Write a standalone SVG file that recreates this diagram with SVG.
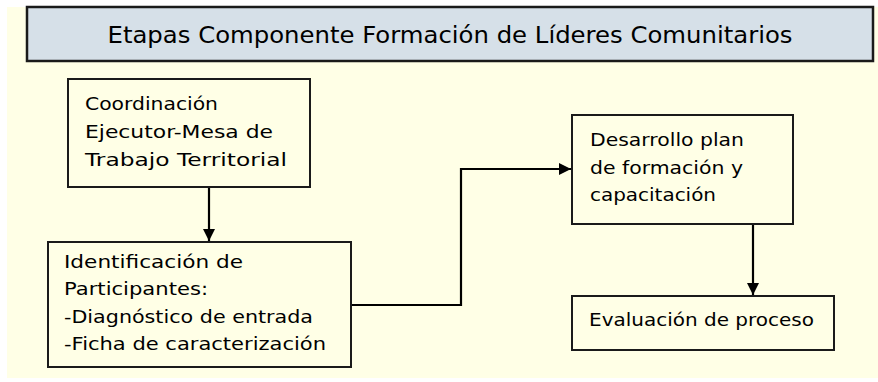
<svg xmlns="http://www.w3.org/2000/svg" width="878" height="382" viewBox="0 0 878 382">
<defs>
<marker id="ah" viewBox="0 0 12 12" refX="12" refY="6" markerWidth="12" markerHeight="12" markerUnits="userSpaceOnUse" orient="auto">
<path d="M0,0 L12,6 L0,12 z" fill="#000"/>
</marker>
<style>
.box{fill:#FFFFE6;stroke:#1a1a1a;stroke-width:2}
.t{font-family:"DejaVu Sans","Liberation Sans",sans-serif;font-size:18px;fill:#000}
.c{fill:none;stroke:#000;stroke-width:2.2}
</style>
</defs>
<rect x="0" y="0" width="878" height="382" fill="#ffffff"/>
<rect x="7" y="7" width="871" height="371" fill="#FFFFE6"/>
<g id="title">
<rect x="27" y="7" width="846" height="54" fill="#D6E0E8" stroke="#1a1a1a" stroke-width="2.5"/>
<text x="450" y="43" text-anchor="middle" font-family="DejaVu Sans, Liberation Sans, sans-serif" font-size="23" textLength="685" lengthAdjust="spacingAndGlyphs">Etapas Componente Formación de Líderes Comunitarios</text>
</g>
<g id="connectors">
<line class="c" x1="209" y1="187" x2="209" y2="241" marker-end="url(#ah)"/>
<polyline class="c" points="351,305 461,305 461,169 571,169" marker-end="url(#ah)"/>
<line class="c" x1="753" y1="224" x2="753" y2="295" marker-end="url(#ah)"/>
</g>
<g id="n1">
<rect class="box" x="68" y="79" width="242" height="108"/>
<text class="t" x="85" y="110" textLength="133" lengthAdjust="spacingAndGlyphs">Coordinación</text>
<text class="t" x="85" y="138" textLength="188" lengthAdjust="spacingAndGlyphs">Ejecutor-Mesa de</text>
<text class="t" x="85" y="166" textLength="202" lengthAdjust="spacingAndGlyphs">Trabajo Territorial</text>
</g>
<g id="n2">
<rect class="box" x="48" y="242" width="303" height="125"/>
<text class="t" x="64" y="268" textLength="179" lengthAdjust="spacingAndGlyphs">Identificación de</text>
<text class="t" x="64" y="295" textLength="144" lengthAdjust="spacingAndGlyphs">Participantes:</text>
<text class="t" x="64" y="323" textLength="249" lengthAdjust="spacingAndGlyphs">-Diagnóstico de entrada</text>
<text class="t" x="64" y="350" textLength="262" lengthAdjust="spacingAndGlyphs">-Ficha de caracterización</text>
</g>
<g id="n3">
<rect class="box" x="572" y="115" width="221" height="109"/>
<text class="t" x="590" y="146" textLength="154" lengthAdjust="spacingAndGlyphs">Desarrollo plan</text>
<text class="t" x="590" y="174" textLength="153" lengthAdjust="spacingAndGlyphs">de formación y</text>
<text class="t" x="590" y="201" textLength="126" lengthAdjust="spacingAndGlyphs">capacitación</text>
</g>
<g id="n4">
<rect class="box" x="572" y="296" width="262" height="54"/>
<text class="t" x="589" y="326" textLength="225" lengthAdjust="spacingAndGlyphs">Evaluación de proceso</text>
</g>
</svg>
